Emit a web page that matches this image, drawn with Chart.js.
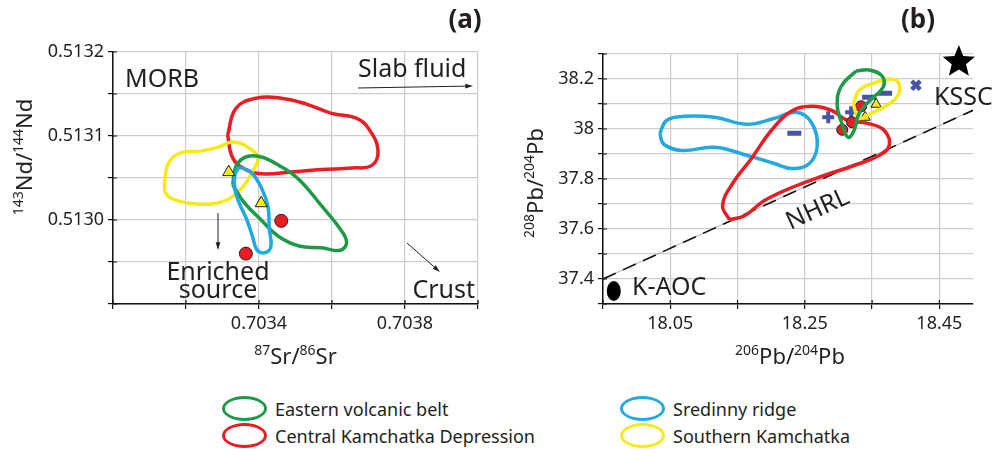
<!DOCTYPE html>
<html>
<head>
<meta charset="utf-8">
<script src="https://cdn.jsdelivr.net/npm/chart.js@4/dist/chart.umd.min.js"></script>
<style>
  html, body { margin: 0; padding: 0; background: #fff; }
  body { width: 997px; height: 456px; position: relative; overflow: hidden; font-family: 'Noto Sans', sans-serif; }
  canvas { position: absolute; top: 0; }
  #srnd { left: 0; }
  #pb { left: 500px; }
  .leg { position: absolute; display: flex; align-items: center; font-size: 18px; color: #231f20; white-space: nowrap; }
  .leg i { display: inline-block; width: 39px; height: 19px; border: 3.5px solid; border-radius: 50%; margin-right: 8px; }
</style>
</head>
<body>
<canvas id="srnd" width="500" height="380"></canvas>
<canvas id="pb" width="497" height="380"></canvas>

<div class="leg" style="left:222px; top:396px"><i style="border-color:#1c9a48"></i>Eastern volcanic belt</div>
<div class="leg" style="left:222px; top:423px"><i style="border-color:#ec1c24"></i>Central Kamchatka Depression</div>
<div class="leg" style="left:620px; top:396px"><i style="border-color:#22a9e1"></i>Sredinny ridge</div>
<div class="leg" style="left:620px; top:423px"><i style="border-color:#f6ea16"></i>Southern Kamchatka</div>

<script>
// ---- (a) 87Sr/86Sr vs 143Nd/144Nd ----
const srTicks = [0.7030, 0.7032, 0.7034, 0.7036, 0.7038, 0.7040];
const srLabels = [0.7034, 0.7038];
const ndTicks = [0.51290, 0.51295, 0.51300, 0.51305, 0.51310, 0.51315, 0.51320];
const ndLabels = [0.5130, 0.5131, 0.5132];

// field outlines (x = 87Sr/86Sr, y = 143Nd/144Nd)
const aRedSr = [0.703314, 0.703337, 0.703392, 0.703461, 0.703530, 0.703599, 0.703668, 0.703703, 0.703726, 0.703709, 0.703654, 0.703571, 0.703488, 0.703406, 0.703364, 0.703328];
const aRedNd = [0.513101, 0.513133, 0.513145, 0.513145, 0.513138, 0.513127, 0.513121, 0.513107, 0.513083, 0.513065, 0.513062, 0.513060, 0.513057, 0.513055, 0.513060, 0.513074];
const aYelSr = [0.703141, 0.703152, 0.703185, 0.703240, 0.703290, 0.703328, 0.703372, 0.703397, 0.703381, 0.703353, 0.703317, 0.703268, 0.703212, 0.703163, 0.703143];
const aYelNd = [0.513045, 0.513068, 0.513080, 0.513082, 0.513087, 0.513093, 0.513086, 0.513074, 0.513057, 0.513038, 0.513025, 0.513019, 0.513020, 0.513025, 0.513033];
const aBluSr = [0.703345, 0.703378, 0.703408, 0.703425, 0.703428, 0.703433, 0.703422, 0.703397, 0.703383, 0.703367, 0.703348, 0.703334, 0.703334];
const aBluNd = [0.513063, 0.513057, 0.513037, 0.513015, 0.512990, 0.512970, 0.512962, 0.512963, 0.512979, 0.513000, 0.513018, 0.513036, 0.513054];
const aGrnSr = [0.703328, 0.703337, 0.703364, 0.703406, 0.703455, 0.703510, 0.703571, 0.703618, 0.703640, 0.703623, 0.703571, 0.703510, 0.703455, 0.703406, 0.703359];
const aGrnNd = [0.513042, 0.513064, 0.513075, 0.513075, 0.513065, 0.513048, 0.513017, 0.512992, 0.512974, 0.512964, 0.512967, 0.512969, 0.512980, 0.513000, 0.513021];

// single samples
const aCircSr = [0.703364, 0.703461];
const aCircNd = [0.512960, 0.512999];
const aTriSr = [0.703317, 0.703406];
const aTriNd = [0.513057, 0.513020];

// ---- (b) 206Pb/204Pb vs 208Pb/204Pb ----
const pb6Ticks = [17.95, 18.05, 18.15, 18.25, 18.35, 18.45];
const pb6Labels = [18.05, 18.25, 18.45];
const pb8Ticks = [37.3, 37.4, 37.5, 37.6, 37.7, 37.8, 37.9, 38.0, 38.1, 38.2, 38.3];
const pb8Labels = [37.4, 37.6, 37.8, 38.0, 38.2];

const bBlu6 = [18.0344, 18.0448, 18.0715, 18.1159, 18.1648, 18.2048, 18.2374, 18.2596, 18.2685, 18.2567, 18.2300, 18.2048, 18.1648, 18.1159, 18.0670, 18.0404];
const bBlu8 = [37.983, 38.035, 38.051, 38.047, 38.019, 38.043, 38.067, 38.027, 37.935, 37.862, 37.842, 37.862, 37.894, 37.927, 37.914, 37.939];
const bRed6 = [18.1381, 18.1278, 18.1426, 18.1707, 18.2004, 18.2300, 18.2596, 18.2893, 18.3130, 18.3426, 18.3678, 18.3752, 18.3574, 18.3233, 18.2789, 18.2344, 18.1900, 18.1604];
const bRed8 = [37.637, 37.694, 37.782, 37.882, 37.995, 38.071, 38.091, 38.075, 38.035, 38.023, 37.995, 37.931, 37.890, 37.854, 37.814, 37.770, 37.714, 37.653];
const bGrn6 = [18.3263, 18.3456, 18.3648, 18.3663, 18.3485, 18.3307, 18.3233, 18.3144, 18.3056, 18.2981, 18.3041];
const bGrn8 = [38.232, 38.236, 38.212, 38.167, 38.119, 38.063, 37.995, 37.967, 38.019, 38.095, 38.171];
const bYel6 = [18.3219, 18.3307, 18.3530, 18.3781, 18.3900, 18.3885, 18.3722, 18.3485, 18.3307];
const bYel8 = [38.099, 38.155, 38.184, 38.200, 38.180, 38.135, 38.095, 38.063, 38.043];

const bCirc6 = [18.3056, 18.3200, 18.3337];
const bCirc8 = [37.997, 38.027, 38.091];
const bTri6 = [18.3560, 18.3396];
const bTri8 = [38.099, 38.047];
const bDash6 = [18.2344, 18.3456, 18.3693];
const bDash8 = [37.983, 38.127, 38.143];
const bPlus6 = [18.2848, 18.3189];
const bPlus8 = [38.047, 38.067];
const bCross6 = [18.4152];
const bCross8 = [38.175];

// NHRL and end-members
const nhrl6 = [17.95, 18.50];
const nhrl8 = [37.40, 38.075];
const kssc = { x: 18.479, y: 38.268 };
const kaoc = { x: 17.966, y: 37.352 };

const RED = '#ec1c24', GREEN = '#1c9a48', BLUE = '#22a9e1', YELLOW = '#f6ea16';
const MARK = '#4656a6';
const FONT = "'Noto Sans', sans-serif";

const pts = (xs, ys) => xs.map((x, i) => ({ x, y: ys[i] }));
const loop = (xs, ys) => { const p = pts(xs, ys); return p.concat([p[0]]); };

function field(xs, ys, color, order) {
  return {
    data: loop(xs, ys), showLine: true, borderColor: color, borderWidth: 3.5,
    pointRadius: 0, tension: 0.42, fill: false, order,
  };
}
function marks(xs, ys, style, bg, border, r, bw, order) {
  return {
    data: pts(xs, ys), showLine: false, pointStyle: style, pointRadius: r,
    backgroundColor: bg, borderColor: border, borderWidth: bw, order,
  };
}

const near = (list, v) => list.some(l => Math.abs(l - v) < 1e-7);

function axis(min, max, ticks, labels, fmt, size) {
  return {
    type: 'linear', min, max,
    afterBuildTicks: s => { s.ticks = ticks.map(v => ({ value: v })); },
    afterFit: s => { if (s.isHorizontal()) s.height = size; else s.width = size; },
    grid: { color: '#cdcdcd', lineWidth: 1.2, tickColor: '#111', tickLength: 5, drawTicks: true },
    border: { color: '#111', width: 1.5 },
    ticks: {
      autoSkip: false, maxRotation: 0, padding: 4,
      color: '#231f20', font: { family: FONT, size: 18 },
      callback: v => near(labels, v) ? fmt(v) : '',
    },
  };
}

// ticks cross the axis line: draw the inner half
const innerTicks = {
  id: 'innerTicks',
  afterDraw(chart) {
    const { ctx, chartArea: a, scales: { x, y } } = chart;
    ctx.save();
    ctx.strokeStyle = '#111';
    ctx.lineWidth = 1.2;
    ctx.beginPath();
    x.ticks.forEach(t => { const p = x.getPixelForValue(t.value); ctx.moveTo(p, a.bottom); ctx.lineTo(p, a.bottom - 4); });
    y.ticks.forEach(t => { const p = y.getPixelForValue(t.value); ctx.moveTo(a.left, p); ctx.lineTo(a.left + 4, p); });
    ctx.stroke();
    ctx.restore();
  },
};

function supText(ctx, parts, cx, cy, rot) {
  ctx.save();
  ctx.translate(cx, cy);
  ctx.rotate(rot);
  ctx.fillStyle = '#231f20';
  ctx.textBaseline = 'alphabetic';
  ctx.textAlign = 'left';
  const big = `22px ${FONT}`, small = `14px ${FONT}`;
  let w = 0;
  parts.forEach(([t, sup]) => { ctx.font = sup ? small : big; w += ctx.measureText(t).width; });
  let x = -w / 2;
  parts.forEach(([t, sup]) => {
    ctx.font = sup ? small : big;
    ctx.fillText(t, x, sup ? -9 : 0);
    x += ctx.measureText(t).width;
  });
  ctx.restore();
}

function text(ctx, s, x, y, align, font) {
  ctx.font = font || `25px ${FONT}`;
  ctx.textAlign = align || 'left';
  ctx.textBaseline = 'alphabetic';
  ctx.fillStyle = '#231f20';
  ctx.fillText(s, x, y);
}

function arrow(ctx, x1, y1, x2, y2) {
  const ang = Math.atan2(y2 - y1, x2 - x1), h = 8;
  ctx.save();
  ctx.strokeStyle = '#231f20';
  ctx.fillStyle = '#231f20';
  ctx.lineWidth = 1;
  ctx.beginPath(); ctx.moveTo(x1, y1); ctx.lineTo(x2 - Math.cos(ang) * 4, y2 - Math.sin(ang) * 4); ctx.stroke();
  ctx.beginPath();
  ctx.moveTo(x2, y2);
  ctx.lineTo(x2 - h * Math.cos(ang - 0.3), y2 - h * Math.sin(ang - 0.3));
  ctx.lineTo(x2 - h * Math.cos(ang + 0.3), y2 - h * Math.sin(ang + 0.3));
  ctx.closePath(); ctx.fill();
  ctx.restore();
}

const notesA = {
  id: 'notesA',
  afterDraw(chart) {
    const { ctx, chartArea: a } = chart;
    const L = a.left, T = a.top;
    ctx.save();
    text(ctx, '(a)', L + 352, T - 24, 'center', `bold 26px ${FONT}`);
    text(ctx, 'MORB', L + 12, T + 35);
    text(ctx, 'Slab fluid', L + 245, T + 25);
    arrow(ctx, L + 245, T + 36, L + 360, T + 34);
    text(ctx, 'Enriched', L + 105, T + 228, 'center');
    text(ctx, 'source', L + 105, T + 246, 'center');
    arrow(ctx, L + 105, T + 161, L + 105, T + 198);
    text(ctx, 'Crust', L + 362, T + 246, 'right');
    arrow(ctx, L + 294, T + 191, L + 327, T + 220);
    supText(ctx, [['87', 1], ['Sr/', 0], ['86', 1], ['Sr', 0]], (a.left + a.right) / 2, a.bottom + 60, 0);
    supText(ctx, [['143', 1], ['Nd/', 0], ['144', 1], ['Nd', 0]], 32, 157, -Math.PI / 2);
    ctx.restore();
  },
};

function star(ctx, cx, cy, R, r) {
  ctx.beginPath();
  for (let i = 0; i < 10; i++) {
    const rad = i % 2 ? r : R, ang = -Math.PI / 2 + i * Math.PI / 5;
    ctx.lineTo(cx + rad * Math.cos(ang), cy + rad * Math.sin(ang));
  }
  ctx.closePath();
  ctx.fill();
}

const notesB = {
  id: 'notesB',
  afterDraw(chart) {
    const { ctx, chartArea: a, scales: { x, y } } = chart;
    const L = a.left, T = a.top;
    ctx.save();
    text(ctx, '(b)', L + 315, T - 26, 'center', `bold 26px ${FONT}`);
    ctx.fillStyle = '#000';
    star(ctx, x.getPixelForValue(kssc.x), y.getPixelForValue(kssc.y), 17, 7.5);
    text(ctx, 'KSSC', L + 331, T + 51);
    ctx.fillStyle = '#000';
    ctx.beginPath();
    ctx.ellipse(x.getPixelForValue(kaoc.x), y.getPixelForValue(kaoc.y), 7, 10, 0, 0, Math.PI * 2);
    ctx.fill();
    text(ctx, 'K-AOC', L + 29, T + 241);
    ctx.save();
    ctx.translate(L + 214, T + 154);
    ctx.rotate(-24.5 * Math.PI / 180);
    text(ctx, 'NHRL', 0, 9, 'center');
    ctx.restore();
    supText(ctx, [['206', 1], ['Pb/', 0], ['204', 1], ['Pb', 0]], (a.left + a.right) / 2 + 2, a.bottom + 60, 0);
    supText(ctx, [['208', 1], ['Pb/', 0], ['204', 1], ['Pb', 0]], 43, 183, -Math.PI / 2);
    ctx.restore();
  },
};

const base = {
  responsive: false, animation: false,
  plugins: { legend: { display: false }, tooltip: { enabled: false } },
};

new Chart(document.getElementById('srnd'), {
  type: 'scatter',
  data: {
    datasets: [
      field(aRedSr, aRedNd, RED, 5),
      field(aYelSr, aYelNd, YELLOW, 4),
      field(aGrnSr, aGrnNd, GREEN, 3),
      field(aBluSr, aBluNd, BLUE, 2),
      marks(aTriSr, aTriNd, 'triangle', YELLOW, '#222', 7, 1, 1),
      marks(aCircSr, aCircNd, 'circle', RED, '#222', 6.5, 1, 0),
    ],
  },
  options: {
    ...base,
    layout: { padding: { top: 52, right: 22, left: 0, bottom: 0 } },
    scales: {
      x: axis(0.7030, 0.7040, srTicks, srLabels, v => v.toFixed(4), 76),
      y: axis(0.51290, 0.51320, ndTicks, ndLabels, v => v.toFixed(4), 113),
    },
  },
  plugins: [innerTicks, notesA],
});

new Chart(document.getElementById('pb'), {
  type: 'scatter',
  data: {
    datasets: [
      { data: pts(nhrl6, nhrl8), showLine: true, borderColor: '#9a9a9a', borderWidth: 0.8, pointRadius: 0, order: 12 },
      { data: pts(nhrl6, nhrl8), showLine: true, borderColor: '#111', borderWidth: 1.6, borderDash: [14, 8], pointRadius: 0, order: 11 },
      field(bBlu6, bBlu8, BLUE, 10),
      field(bRed6, bRed8, RED, 9),
      marks(bDash6, bDash8, 'line', MARK, MARK, 7, 5, 8),
      marks(bPlus6, bPlus8, 'cross', MARK, MARK, 6, 4, 7),
      marks(bCross6, bCross8, 'crossRot', MARK, MARK, 6, 4.5, 7),
      marks(bCirc6, bCirc8, 'circle', RED, '#222', 5.5, 1, 6),
      marks(bTri6, bTri8, 'triangle', YELLOW, '#222', 6, 1, 5),
      field(bYel6, bYel8, YELLOW, 4),
      field(bGrn6, bGrn8, GREEN, 3),
    ],
  },
  options: {
    ...base,
    layout: { padding: { top: 54, right: 24, left: 0, bottom: 0 } },
    scales: {
      x: axis(17.95, 18.50, pb6Ticks, pb6Labels, v => v.toFixed(2), 76),
      y: axis(37.30, 38.30, pb8Ticks, pb8Labels, v => (Math.round(v * 10) / 10).toString(), 103),
    },
  },
  plugins: [innerTicks, notesB],
});
</script>
</body>
</html>
